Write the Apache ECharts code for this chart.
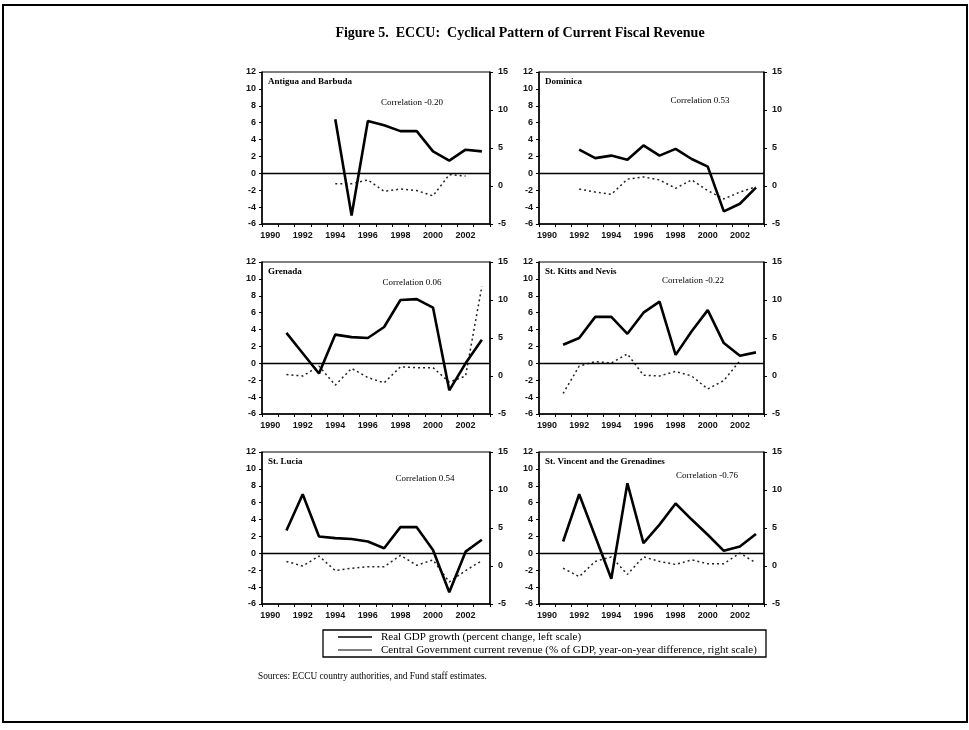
<!DOCTYPE html>
<html>
<head>
<meta charset="utf-8">
<script src="https://cdn.jsdelivr.net/npm/echarts@6/dist/echarts.min.js"></script>
<style>
html,body{margin:0;padding:0;background:#fff;}
#chart{width:969px;height:730px;}
</style>
</head>
<body>
<div id="chart"></div>
<script>
// ---- data ----
const years = ['1990','1991','1992','1993','1994','1995','1996','1997','1998','1999','2000','2001','2002','2003'];
const panelNames = ['Antigua and Barbuda','Dominica','Grenada','St. Kitts and Nevis','St. Lucia','St. Vincent and the Grenadines'];
const correlations = ['Correlation -0.20','Correlation 0.53','Correlation 0.06','Correlation -0.22','Correlation 0.54','Correlation -0.76'];
const leftTicks = [-6,-4,-2,0,2,4,6,8,10,12];
const rightTicks = [-5,0,5,10,15];

const gdpAntigua   = [null,null,null,null,6.4,-5.0,6.2,5.7,5.0,5.0,2.6,1.5,2.8,2.6];
const revAntigua   = [null,null,null,null,0.3,0.3,0.8,-0.7,-0.4,-0.6,-1.3,1.5,1.3,null];
const gdpDominica  = [null,null,2.8,1.8,2.1,1.6,3.3,2.1,2.9,1.7,0.8,-4.5,-3.6,-1.7];
const revDominica  = [null,null,-0.4,-0.8,-1.1,0.9,1.2,0.8,-0.3,0.8,-0.6,-1.7,-0.8,-0.1];
const gdpGrenada   = [null,3.6,1.2,-1.2,3.4,3.1,3.0,4.3,7.5,7.6,6.6,-3.2,0.0,2.8];
const revGrenada   = [null,0.2,0.0,1.3,-1.2,1.0,-0.2,-0.9,1.2,1.1,1.1,-0.8,0.0,11.8];
const gdpStKitts   = [null,2.2,3.0,5.5,5.5,3.5,6.0,7.3,1.0,3.8,6.3,2.4,0.9,1.3];
const revStKitts   = [null,-2.3,1.3,1.9,1.7,2.9,0.1,0.0,0.6,0.0,-1.7,-0.6,2.0,null];
const gdpStLucia   = [null,2.7,7.0,2.0,1.8,1.7,1.4,0.6,3.1,3.1,0.4,-4.6,0.2,1.6];
const revStLucia   = [null,0.6,0.0,1.3,-0.6,-0.3,-0.1,-0.1,1.4,0.1,0.8,-2.1,-0.6,0.7];
const gdpStVincent = [null,1.4,7.0,2.0,-3.0,8.3,1.2,3.4,5.9,4.0,2.2,0.3,0.8,2.3];
const revStVincent = [null,-0.3,-1.4,0.6,1.2,-1.1,1.2,0.6,0.2,0.8,0.3,0.3,1.7,0.4];

const titleText = 'Figure 5.  ECCU:  Cyclical Pattern of Current Fiscal Revenue';
const legendGdp = 'Real GDP growth (percent change, left scale)';
const legendRev = 'Central Government current revenue (% of GDP, year-on-year difference, right scale)';
const sourceText = 'Sources: ECCU country authorities, and Fund staff estimates.';

// ---- layout ----
const gdpSeries = [gdpAntigua,gdpDominica,gdpGrenada,gdpStKitts,gdpStLucia,gdpStVincent];
const revSeries = [revAntigua,revDominica,revGrenada,revStKitts,revStLucia,revStVincent];
const colX = [[262,228],[539,225]];
const rowY = [72,262,452];
const plotH = 152;
const corrOffset = [[150,31],[161,29],[150,21],[154,19],[163,27],[168,24]];

const FONT = "'Liberation Serif', serif";
const AXFONT = "'Liberation Sans', sans-serif";

const grids=[], xAxes=[], yAxes=[], series=[], graphics=[];
for (let i=0;i<6;i++){
  const c=i%2, r=Math.floor(i/2);
  const left=colX[c][0], width=colX[c][1], top=rowY[r];
  grids.push({left:left, top:top, width:width, height:plotH, show:true, borderColor:'#000', borderWidth:1, backgroundColor:'transparent'});
  xAxes.push({type:'category', gridIndex:i, data:years, boundaryGap:true,
    axisLine:{onZero:false, lineStyle:{color:'#000', width:1.5}},
    axisTick:{show:true, interval:0, length:3, lineStyle:{color:'#000'}},
    axisLabel:{interval:1, fontSize:9, color:'#111', fontFamily:AXFONT, fontWeight:'bold', margin:7},
    splitLine:{show:false}});
  yAxes.push({type:'value', gridIndex:i, position:'left', min:leftTicks[0], max:leftTicks[leftTicks.length-1], interval:2,
    axisLine:{show:true, lineStyle:{color:'#000', width:1.5}},
    axisTick:{show:true, length:3, lineStyle:{color:'#000'}},
    axisLabel:{fontSize:9, color:'#111', fontFamily:AXFONT, fontWeight:'bold', margin:6},
    splitLine:{show:false}});
  yAxes.push({type:'value', gridIndex:i, position:'right', min:rightTicks[0], max:rightTicks[rightTicks.length-1], interval:5,
    axisLine:{show:true, lineStyle:{color:'#000', width:1.5}},
    axisTick:{show:true, length:3, lineStyle:{color:'#000'}},
    axisLabel:{fontSize:9, color:'#111', fontFamily:AXFONT, fontWeight:'bold', margin:8},
    splitLine:{show:false}});
  series.push({type:'line', name:legendGdp, xAxisIndex:i, yAxisIndex:2*i, data:gdpSeries[i],
    symbol:'none', connectNulls:false, lineStyle:{color:'#000', width:2.6}, z:3,
    markLine:{silent:true, symbol:['none','none'], label:{show:false},
      lineStyle:{color:'#000', width:1.4, type:'solid'}, data:[{yAxis:0}]}});
  series.push({type:'line', name:legendRev, xAxisIndex:i, yAxisIndex:2*i+1, data:revSeries[i],
    symbol:'none', connectNulls:false, lineStyle:{color:'#222', width:1.5, type:[2,3]}, z:2});
  graphics.push({type:'text', left:left+6, top:top+5, style:{text:panelNames[i], font:"bold 9px "+FONT, fill:'#000'}});
  graphics.push({type:'text', x:left+corrOffset[i][0], y:top+corrOffset[i][1],
    style:{text:correlations[i], font:"9px "+FONT, fill:'#000', textAlign:'center', textVerticalAlign:'middle'}});
}

// page frame, title, legend, source
graphics.push({type:'rect', shape:{x:3,y:5,width:964,height:717}, style:{fill:'none', stroke:'#000', lineWidth:2}, z:-1});
graphics.push({type:'text', x:520, y:33, style:{text:titleText, font:"bold 14px "+FONT, fill:'#000', textAlign:'center', textVerticalAlign:'middle'}});
graphics.push({type:'rect', shape:{x:323,y:630,width:443,height:27}, style:{fill:'none', stroke:'#000', lineWidth:1.3}});
graphics.push({type:'line', shape:{x1:338,y1:637,x2:372,y2:637}, style:{stroke:'#000', lineWidth:1.5}});
graphics.push({type:'line', shape:{x1:338,y1:650,x2:372,y2:650}, style:{stroke:'#000', lineWidth:1}});
graphics.push({type:'text', x:381, y:637, style:{text:legendGdp, font:"11px "+FONT, fill:'#000', textVerticalAlign:'middle'}});
graphics.push({type:'text', x:381, y:650, style:{text:legendRev, font:"11px "+FONT, fill:'#000', textVerticalAlign:'middle'}});
graphics.push({type:'text', x:258, y:677, style:{text:sourceText, font:"9.3px "+FONT, fill:'#000', textVerticalAlign:'middle'}});

const chart = echarts.init(document.getElementById('chart'), null, {renderer:'canvas'});
chart.setOption({
  animation:false,
  backgroundColor:'#fff',
  grid:grids, xAxis:xAxes, yAxis:yAxes, series:series, graphic:graphics
});
</script>
</body>
</html>
